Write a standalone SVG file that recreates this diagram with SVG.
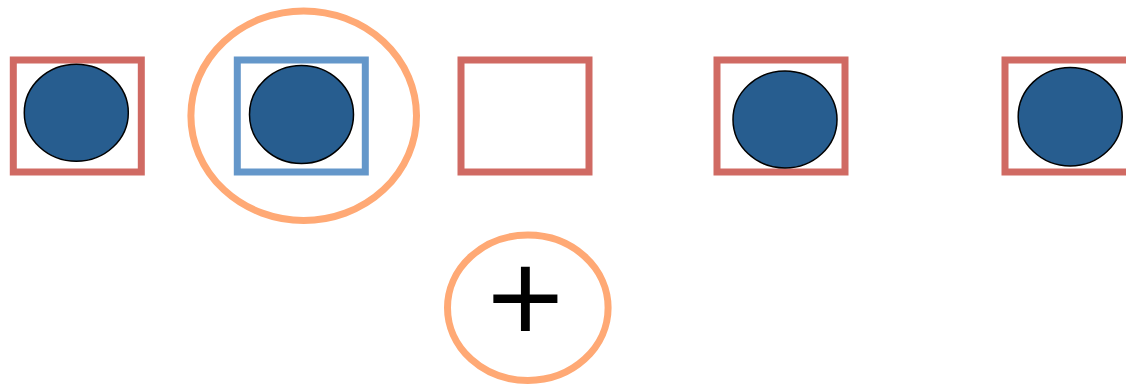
<svg xmlns="http://www.w3.org/2000/svg" width="1126" height="385" viewBox="0 0 1126 385">
<style>
.red{fill:none;stroke:#D06A63;stroke-width:7}
.blue{fill:none;stroke:#6497CA;stroke-width:7}
.orange{fill:none;stroke:#FFA975;stroke-width:7}
.ball{fill:#275D8F;stroke:#000;stroke-width:1.5}
.plus{font-family:Inter,"Liberation Sans",sans-serif;font-weight:260;font-size:142px;fill:#000}
</style>
<rect width="1126" height="385" fill="#fff"/>
<g id="slot1"><rect class="red" x="13.3" y="60" width="128" height="112"/><ellipse class="ball" cx="76.3" cy="112.7" rx="52" ry="48.5"/></g>
<g id="selected"><ellipse class="orange" cx="303.7" cy="115.7" rx="112.8" ry="104.8"/><rect class="blue" x="237.3" y="60" width="128" height="112"/><ellipse class="ball" cx="301.5" cy="114.5" rx="52" ry="49"/></g>
<g id="slot3"><rect class="red" x="461" y="60" width="128" height="112"/></g>
<g id="slot4"><rect class="red" x="717" y="60" width="128" height="112"/><ellipse class="ball" cx="785" cy="119.5" rx="52" ry="48.5"/></g>
<g id="slot5"><rect class="red" x="1005" y="60" width="128" height="112"/><ellipse class="ball" cx="1070.2" cy="116.7" rx="52" ry="49.3"/></g>
<g id="add"><ellipse class="orange" cx="527.8" cy="307.8" rx="80.3" ry="72.7"/><text class="plus" x="525.3" y="339" text-anchor="middle">+</text></g>
<g id="connectors"></g>
</svg>
